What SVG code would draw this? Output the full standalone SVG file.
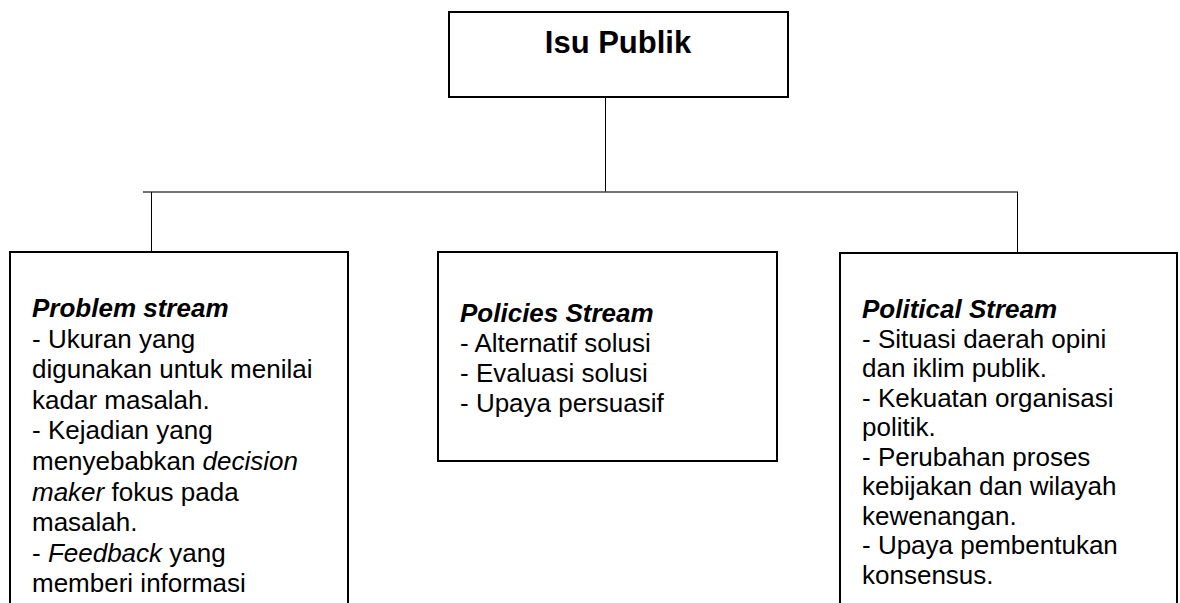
<svg xmlns="http://www.w3.org/2000/svg" width="1180" height="603" viewBox="0 0 1180 603">
<style>
.box{fill:#fff;stroke:#000;stroke-width:2}
.t{font-family:"Liberation Sans",Arial,sans-serif;font-size:26px;fill:#000}
.h{font-weight:bold;font-style:italic}
.i{font-style:italic}
.title{font-family:"Liberation Sans",Arial,sans-serif;font-size:31px;font-weight:bold;fill:#000}
.c{stroke:#000;stroke-width:1;fill:none}
.cg{stroke:#444;stroke-width:1.6;fill:none}
</style>
<rect width="1180" height="603" fill="#fff"/>
<g id="connectors">
<line class="c" x1="605.5" y1="97" x2="605.5" y2="192"/>
<line class="cg" x1="143" y1="192" x2="1018" y2="192"/>
<line class="c" x1="151.5" y1="192" x2="151.5" y2="252"/>
<line class="c" x1="1017.5" y1="192" x2="1017.5" y2="253"/>
</g>
<g id="isu-publik">
<rect class="box" x="449" y="12" width="339" height="85"/>
<text class="title" x="618" y="53" text-anchor="middle">Isu Publik</text>
</g>
<g id="problem-stream">
<rect class="box" x="10" y="252" width="338" height="370"/>
<text class="t" x="32" y="317"><tspan class="h">Problem stream</tspan>
<tspan x="32" y="347.6">- Ukuran yang</tspan>
<tspan x="32" y="378.2">digunakan untuk menilai</tspan>
<tspan x="32" y="408.8">kadar masalah.</tspan>
<tspan x="32" y="439.4">- Kejadian yang</tspan>
<tspan x="32" y="470">menyebabkan <tspan class="i">decision</tspan></tspan>
<tspan x="32" y="500.6"><tspan class="i">maker</tspan> fokus pada</tspan>
<tspan x="32" y="531.2">masalah.</tspan>
<tspan x="32" y="561.8">- <tspan class="i">Feedback</tspan> yang</tspan>
<tspan x="32" y="592.4">memberi informasi</tspan></text>
</g>
<g id="policies-stream">
<rect class="box" x="438" y="252" width="339" height="209"/>
<text class="t" x="460" y="322"><tspan class="h">Policies Stream</tspan>
<tspan x="460" y="352">- Alternatif solusi</tspan>
<tspan x="460" y="382">- Evaluasi solusi</tspan>
<tspan x="460" y="412">- Upaya persuasif</tspan></text>
</g>
<g id="political-stream">
<rect class="box" x="840" y="253" width="337" height="370"/>
<text class="t" x="862" y="318"><tspan class="h">Political Stream</tspan>
<tspan x="862" y="347.5">- Situasi daerah opini</tspan>
<tspan x="862" y="377">dan iklim publik.</tspan>
<tspan x="862" y="406.5">- Kekuatan organisasi</tspan>
<tspan x="862" y="436">politik.</tspan>
<tspan x="862" y="465.5">- Perubahan proses</tspan>
<tspan x="862" y="495">kebijakan dan wilayah</tspan>
<tspan x="862" y="524.5">kewenangan.</tspan>
<tspan x="862" y="554">- Upaya pembentukan</tspan>
<tspan x="862" y="583.5">konsensus.</tspan></text>
</g>
</svg>
